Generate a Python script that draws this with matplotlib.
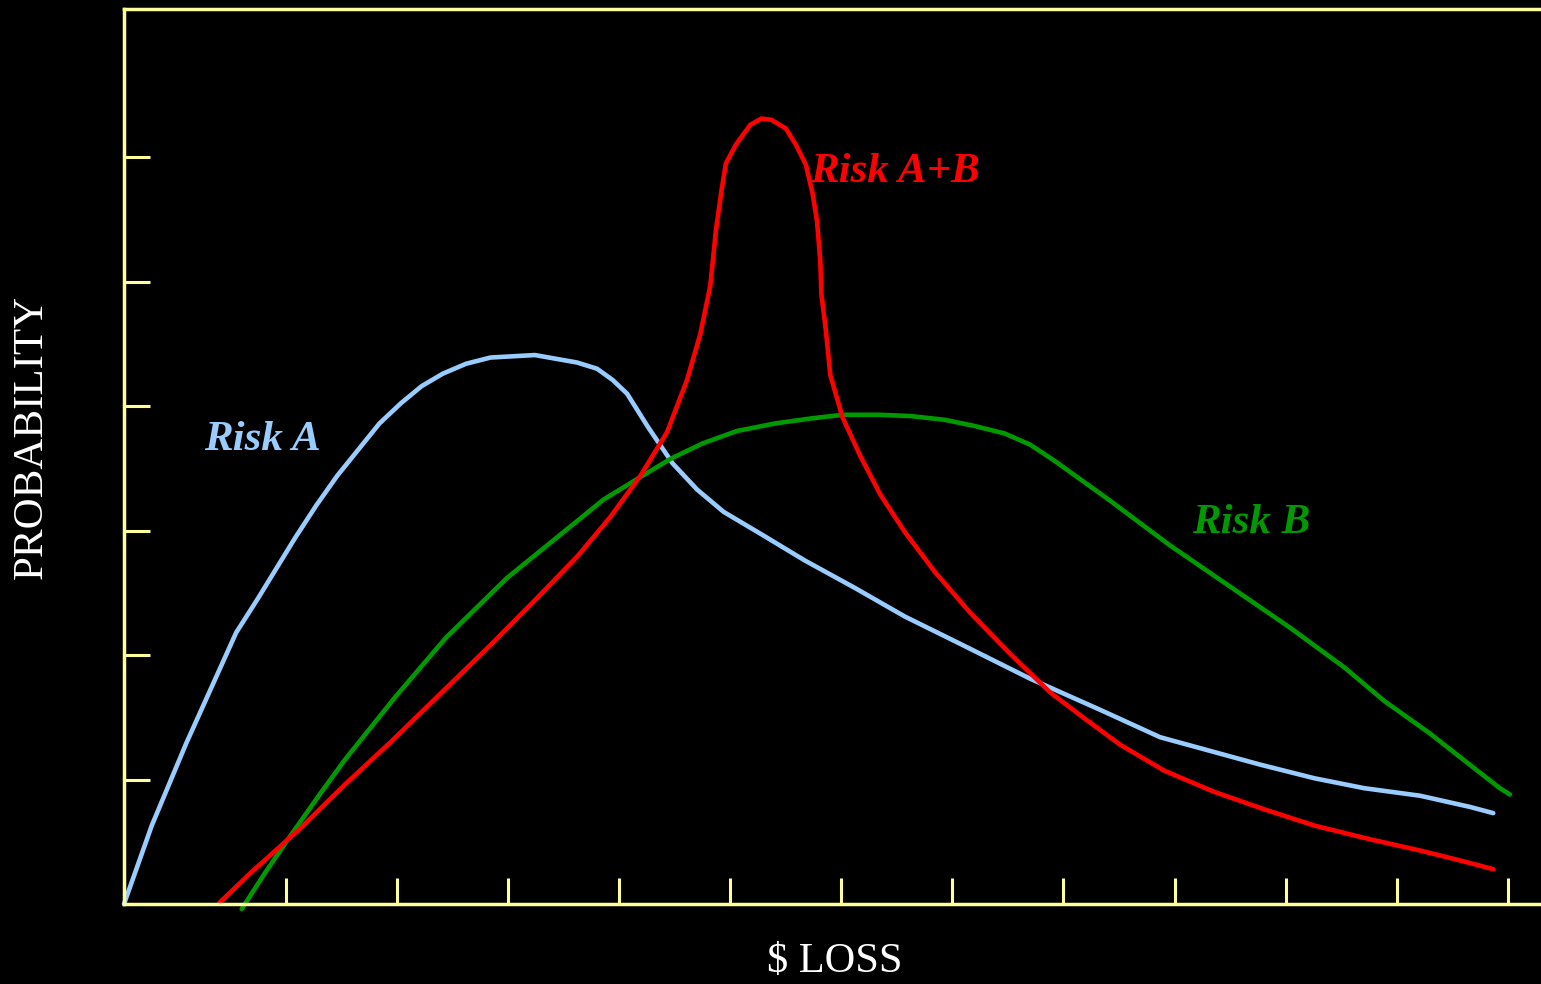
import numpy as np
import matplotlib.pyplot as plt

# values (x: loss in tick units, y: probability in tick units)
risk_a_x = [-0.46, -0.21, 0.10, 0.55, 0.75, 1.08, 1.27, 1.46, 1.65, 1.84, 2.03, 2.22, 2.41, 2.62,
            2.84, 3.24, 3.62, 3.80, 3.94, 4.07, 4.26, 4.48, 4.70, 4.94, 5.28, 5.67, 6.12, 6.57,
            7.07, 7.70, 8.33, 8.87, 9.32, 9.77, 10.26, 10.71, 11.21, 11.66, 11.87]
risk_a_y = [0.00, 0.63, 1.29, 2.18, 2.46, 2.94, 3.20, 3.44, 3.65, 3.86, 4.02, 4.16, 4.26, 4.34,
            4.39, 4.41, 4.35, 4.30, 4.21, 4.10, 3.83, 3.54, 3.33, 3.15, 2.97, 2.76, 2.54, 2.31,
            2.09, 1.81, 1.56, 1.34, 1.23, 1.12, 1.01, 0.93, 0.87, 0.78, 0.73]

risk_b_x = [0.60, 0.81, 1.04, 1.31, 1.53, 1.98, 2.44, 2.99, 3.57, 3.86, 4.19, 4.47, 4.75, 5.06,
            5.40, 5.72, 6.01, 6.35, 6.62, 6.93, 7.20, 7.47, 7.70, 7.92, 8.42, 8.96, 9.50, 10.04,
            10.53, 10.89, 11.30, 11.70, 11.93, 12.02]
risk_b_y = [-0.04, 0.25, 0.55, 0.89, 1.16, 1.66, 2.14, 2.62, 3.04, 3.25, 3.43, 3.58, 3.70, 3.80,
            3.86, 3.90, 3.93, 3.93, 3.92, 3.89, 3.84, 3.78, 3.69, 3.56, 3.24, 2.88, 2.55, 2.22,
            1.90, 1.63, 1.37, 1.09, 0.93, 0.88]

risk_ab_x = [0.40, 0.68, 1.13, 1.53, 1.94, 2.39, 2.84, 3.24, 3.63, 3.92, 4.19, 4.43, 4.61, 4.73,
             4.82, 4.87, 4.92, 4.96, 5.05, 5.18, 5.28, 5.37, 5.50, 5.59, 5.68, 5.74, 5.78, 5.81,
             5.82, 5.86, 5.90, 6.01, 6.17, 6.35, 6.57, 6.84, 7.16, 7.52, 7.88, 8.19, 8.51, 8.91,
             9.36, 9.81, 10.26, 10.76, 11.21, 11.57, 11.87]
risk_ab_y = [0.01, 0.25, 0.61, 0.96, 1.30, 1.69, 2.08, 2.44, 2.80, 3.11, 3.44, 3.79, 4.21, 4.58,
             4.97, 5.41, 5.73, 5.95, 6.10, 6.26, 6.31, 6.30, 6.23, 6.10, 5.94, 5.71, 5.49, 5.17,
             4.90, 4.61, 4.25, 3.91, 3.60, 3.29, 2.99, 2.67, 2.34, 2.01, 1.70, 1.49, 1.28, 1.07,
             0.90, 0.76, 0.63, 0.52, 0.43, 0.35, 0.28]

x_ticks = [1, 2, 3, 4, 5, 6, 7, 8, 9, 10, 11, 12]
y_ticks = [1, 2, 3, 4, 5, 6]

yellow = "#ffff99"
blue = "#99ccff"
green = "#009900"
red = "#ff0000"

fig = plt.figure(figsize=(15.41, 9.84), dpi=100, facecolor="black")
ax = fig.add_axes([124 / 1541, 80 / 984, 1417 / 1541, 895 / 984], facecolor="black")

ax.plot(risk_a_x, risk_a_y, color=blue, lw=3.3, solid_capstyle="round", clip_on=False)
ax.plot(risk_b_x, risk_b_y, color=green, lw=3.3, solid_capstyle="round", clip_on=False)
ax.plot(risk_ab_x, risk_ab_y, color=red, lw=3.3, solid_capstyle="round", clip_on=False)

ax.set_xlim(-0.46, 12.3)
ax.set_ylim(0, 7.19)
ax.set_xticks(x_ticks)
ax.set_yticks(y_ticks)
ax.set_xticklabels([])
ax.set_yticklabels([])
ax.tick_params(direction="in", length=19, width=2.2, color=yellow)
for side in ["left", "bottom", "top"]:
    ax.spines[side].set_color(yellow)
    ax.spines[side].set_linewidth(2.5)
ax.spines["right"].set_visible(False)

lbl = dict(family="Liberation Serif", weight="bold", style="italic", fontsize=31,
           ha="center", va="center")
ax.text(0.79, 3.73, "Risk A", color=blue, **lbl)
ax.text(6.48, 5.88, "Risk A+B", color=red, **lbl)
ax.text(9.69, 3.06, "Risk B", color=green, **lbl)

fig.text(32 / 1541, 1 - 437 / 984, "PROBABILITY", rotation=90, color="white",
         family="Liberation Serif", fontsize=31, ha="center", va="center")
fig.text(835 / 1541, 1 - 962 / 984, "$ LOSS", color="white",
         family="Liberation Serif", fontsize=30.5, ha="center", va="center")

fig.savefig("out.png", dpi=100, facecolor="black")
